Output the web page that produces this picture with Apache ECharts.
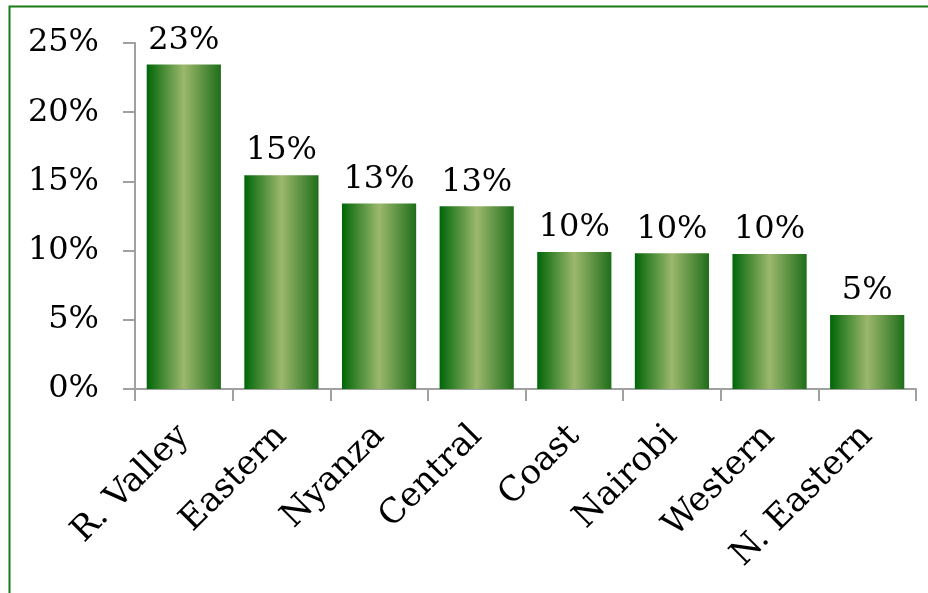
<!DOCTYPE html>
<html>
<head>
    <meta charset="UTF-8">
    <title>Share by Province</title>
    <script src="https://cdn.jsdelivr.net/npm/echarts@6/dist/echarts.min.js"></script>
    <style>
        html, body { margin: 0; padding: 0; background: #fff; overflow: hidden; }
        #chart { width: 928px; height: 593px; }
    </style>
</head>
<body>
    <div id="chart"></div>
    <script type="text/javascript">
        // values
        var provinces = ['R. Valley', 'Eastern', 'Nyanza', 'Central', 'Coast', 'Nairobi', 'Western', 'N. Eastern'];
        var shares = [23.45, 15.45, 13.4, 13.2, 9.9, 9.8, 9.75, 5.35];
        var yTicks = [0, 5, 10, 15, 20, 25];

        var fontFamily = "'DejaVu Serif', serif";
        var axisGrey = '#a0a0a0';

        var barFill = new echarts.graphic.LinearGradient(0, 0, 1, 0, [
            { offset: 0, color: '#006608' },
            { offset: 0.5, color: '#9cb86c' },
            { offset: 1, color: '#1f6e1a' }
        ]);

        var mychart = echarts.init(document.getElementById('chart'), null, { renderer: 'canvas' });

        var option = {
            animation: false,
            textStyle: { fontFamily: fontFamily },
            graphic: [
                {
                    // outer frame of the picture
                    type: 'rect',
                    left: 7,
                    top: 4,
                    shape: { width: 1000, height: 1000 },
                    style: { fill: 'none', stroke: '#1a7a1a', lineWidth: 2 }
                }
            ],
            grid: {
                left: 135,
                right: 12,
                top: 43,
                bottom: 204,
                containLabel: false
            },
            xAxis: {
                type: 'category',
                data: provinces,
                axisLine: { show: true, lineStyle: { color: axisGrey, width: 2 } },
                axisTick: { show: true, length: 12, alignWithLabel: false, lineStyle: { color: axisGrey, width: 2 } },
                axisLabel: {
                    rotate: 45,
                    margin: 42,
                    color: '#000',
                    fontSize: 34,
                    fontFamily: fontFamily,
                    interval: 0
                }
            },
            yAxis: {
                type: 'value',
                min: yTicks[0],
                max: yTicks[yTicks.length - 1],
                interval: 5,
                splitLine: { show: false },
                axisLine: { show: true, lineStyle: { color: axisGrey, width: 2 } },
                axisTick: { show: true, length: 12, lineStyle: { color: axisGrey, width: 2 } },
                axisLabel: {
                    margin: 36,
                    color: '#000',
                    fontSize: 32,
                    fontFamily: fontFamily,
                    formatter: '{value}%'
                }
            },
            series: [
                {
                    type: 'bar',
                    data: shares,
                    barCategoryGap: '24%',
                    itemStyle: { color: barFill },
                    label: {
                        show: true,
                        position: 'top',
                        distance: 8,
                        color: '#000',
                        fontSize: 32,
                        fontFamily: fontFamily,
                        formatter: function (params) {
                            return Math.round(params.value) + '%';
                        }
                    }
                }
            ]
        };

        mychart.setOption(option);
    </script>
</body>
</html>
